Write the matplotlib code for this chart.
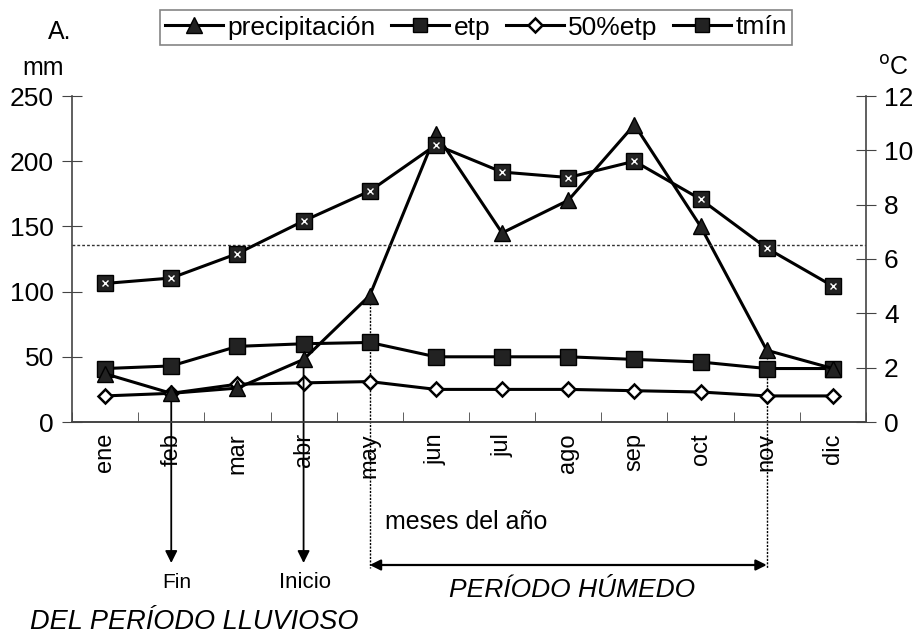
import matplotlib
matplotlib.use("Agg")
import matplotlib.pyplot as plt
from matplotlib.lines import Line2D

MONTHS = ["ene", "feb", "mar", "abr", "may", "jun", "jul", "ago", "sep", "oct", "nov", "dic"]
PRECIP = [37, 22, 26, 48, 97, 221, 145, 170, 228, 150, 55, 41]
ETP = [41, 43, 58, 60, 61, 50, 50, 50, 48, 46, 41, 41]
ETP50 = [20, 22, 29, 30, 31, 25, 25, 25, 24, 23, 20, 20]
TMIN = [5.1, 5.3, 6.2, 7.4, 8.5, 10.2, 9.2, 9.0, 9.6, 8.2, 6.4, 5.0]
TMIN_LIMIT = 6.5
FIN_IDX, INICIO_IDX = 1, 3
HUMEDO_START, HUMEDO_END = 4, 10

FAMILY = ["Liberation Sans", "DejaVu Sans"]
plt.rcParams["font.family"] = FAMILY

W, H = 919, 634
fig = plt.figure(figsize=(W / 100, H / 100), dpi=100)
ax = fig.add_axes([72 / W, 1 - 422 / H, (866 - 72) / W, (422 - 96) / H])
ax2 = ax.twinx()

x = list(range(1, len(MONTHS) + 1))
lw = 2.2
ax.plot(x, ETP, color="black", lw=lw, marker="s", ms=11, mfc="#222", mec="black", zorder=3)
ax.plot(x, ETP50, color="black", lw=lw, marker="D", ms=7, mfc="white", mec="black", mew=1.8, zorder=3)
ax.plot(x, PRECIP, color="black", lw=lw, marker="^", ms=12, mfc="#222", mec="black", zorder=4)
ax2.plot(x, TMIN, color="black", lw=lw, marker="s", ms=11, mfc="#222", mec="black", zorder=3)
ax2.plot(x, TMIN, ls="none", marker="x", ms=4, mec="white", mew=1, zorder=4)
ax2.axhline(TMIN_LIMIT, color="#333", lw=1, ls=(0, (2, 1.5)))

ax.set_xlim(0.5, len(MONTHS) + 0.5)
ax.set_ylim(0, 250)
ax2.set_ylim(0, 12)
ax.set_yticks(range(0, 251, 50))
ax2.set_yticks(range(0, 13, 2))
ax.set_xticks(x)
ax.set_xticklabels(MONTHS, rotation=90, fontsize=17)
ax.set_xticks([i + 0.5 for i in range(0, len(MONTHS) + 1)], minor=True)
ax.tick_params(axis="x", which="major", length=0, pad=8)
ax.tick_params(axis="x", which="minor", direction="in", length=7, color="#444")
ax.tick_params(axis="y", direction="inout", length=14, labelsize=19, color="#444", pad=6)
ax2.tick_params(axis="y", direction="inout", length=14, labelsize=19, color="#444", pad=6)

for a in (ax, ax2):
    a.spines["top"].set_visible(False)
    for s in ("left", "right", "bottom"):
        a.spines[s].set_color("#444")
        a.spines[s].set_linewidth(1.2)
ax2.spines["left"].set_visible(False)
ax.spines["right"].set_visible(False)

handles = [
    Line2D([], [], color="black", lw=lw, marker="^", ms=12, mfc="#222"),
    Line2D([], [], color="black", lw=lw, marker="s", ms=10, mfc="#222"),
    Line2D([], [], color="black", lw=lw, marker="D", ms=7, mfc="white", mew=1.8),
    Line2D([], [], color="black", lw=lw, marker="s", ms=10, mfc="#222"),
]
labels = ["precipitación", "etp", "50%etp", "tmín"]
leg = fig.legend(handles, labels, loc="center", ncol=4, bbox_to_anchor=((162 + 790) / 2 / W, 1 - 27.5 / H),
                 fontsize=19, frameon=True, fancybox=False, edgecolor="#666", handlelength=2.2,
                 handletextpad=0.15, columnspacing=0.6, borderpad=0.2, borderaxespad=0)
leg.get_frame().set_linewidth(1.2)

fig.text(48 / W, 1 - 32 / H, "A.", fontsize=18, va="center", ha="left")
fig.text(22 / W, 1 - 68 / H, "mm", fontsize=18, va="center", ha="left")
fig.text(878 / W, 1 - 68 / H, "$^{\\mathrm{o}}$C", fontsize=18, va="center", ha="left")

# guide lines and arrows below the axis (data x, pixel-based y below the plot)
def ybelow(py):
    return (422 - py) / (422 - 96) * 250

arrow_y = ybelow(563)
for idx in (FIN_IDX, INICIO_IDX):
    ax.annotate("", xy=(x[idx], arrow_y), xytext=(x[idx], PRECIP[idx]), xycoords="data",
                arrowprops=dict(arrowstyle="-|>", color="black", lw=1.3, mutation_scale=18,
                                shrinkA=0, shrinkB=0), annotation_clip=False)
for idx in (HUMEDO_START, HUMEDO_END):
    ax.plot([x[idx], x[idx]], [PRECIP[idx], ybelow(568)], color="black", lw=1, ls=(0, (1.5, 1)),
            clip_on=False, zorder=2)
ax.annotate("", xy=(x[HUMEDO_START], ybelow(565)), xytext=(x[HUMEDO_END], ybelow(565)),
            arrowprops=dict(arrowstyle="<|-|>", color="black", lw=1.6, mutation_scale=16,
                            shrinkA=0, shrinkB=0), annotation_clip=False)

fig.text(385 / W, 1 - 522 / H, "meses del año", fontsize=18, va="center", ha="left")
fig.text(177 / W, 1 - 583 / H, "Fin", fontsize=15, va="center", ha="center")
fig.text(305 / W, 1 - 583 / H, "Inicio", fontsize=16, va="center", ha="center")
fig.text(572 / W, 1 - 590 / H, "PERÍODO HÚMEDO", fontsize=19, style="italic",
         va="center", ha="center")
fig.text(30 / W, 1 - 622 / H, "DEL PERÍODO LLUVIOSO", fontsize=19.5, style="italic",
         va="center", ha="left")

fig.savefig("out.png", dpi=100)
